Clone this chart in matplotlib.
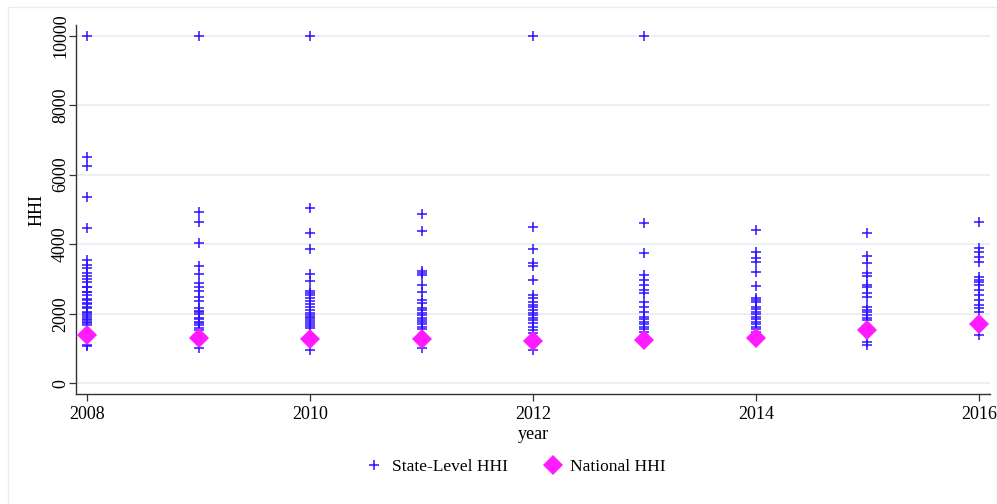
import matplotlib

matplotlib.use("Agg")

import matplotlib.pyplot as plt
from matplotlib.lines import Line2D
from matplotlib.patches import Rectangle

years = [2008, 2009, 2010, 2011, 2012, 2013, 2014, 2015, 2016]

# state-level HHI per year
state_hhi = {
    2008: [10000, 6517, 6258, 5367, 4475, 3547, 3402, 3307, 3164, 3086, 2991, 2922, 2779,
           2761, 2634, 2617, 2540, 2416, 2396, 2301, 2281, 2203, 2157, 2059, 2030, 1964,
           1920, 1841, 1820, 1772, 1726, 1677, 1102, 1073],
    2009: [10000, 4918, 4648, 4044, 3373, 3135, 2876, 2779, 2655, 2491, 2376, 2157, 2088,
           2050, 1990, 1869, 1840, 1772, 1720, 1677, 1600, 1533, 1007],
    2010: [10000, 5033, 4331, 3862, 3135, 2942, 2655, 2600, 2540, 2450, 2376, 2280, 2186,
           2100, 2013, 1960, 1916, 1870, 1820, 1760, 1705, 1640, 1582, 958],
    2011: [4860, 4389, 3239, 3180, 3115, 2827, 2634, 2396, 2300, 2175, 2100, 2013, 1950,
           1880, 1820, 1760, 1700, 1628, 1560, 1007],
    2012: [10000, 4507, 3862, 3469, 3373, 2971, 2540, 2445, 2350, 2252, 2180, 2108, 2030,
           1964, 1890, 1820, 1730, 1628, 1530, 1438, 958],
    2013: [10000, 4602, 3738, 3115, 2971, 2827, 2683, 2588, 2347, 2203, 2059, 1916, 1850,
           1772, 1700, 1628, 1560, 1484],
    2014: [4408, 3785, 3612, 3497, 3210, 2799, 2445, 2400, 2347, 2203, 2130, 2059, 1990,
           1916, 1850, 1772, 1700, 1628, 1560, 1484],
    2015: [4314, 3661, 3451, 3164, 3086, 2827, 2779, 2588, 2491, 2203, 2108, 2040, 1964,
           1890, 1820, 1196, 1102],
    2016: [4648, 3883, 3785, 3641, 3497, 3066, 2971, 2900, 2827, 2683, 2540, 2396, 2252,
           2157, 2060, 1389],
}

national_hhi = [1389, 1294, 1274, 1274, 1225, 1245, 1294, 1533, 1705]

plt.rcParams["font.family"] = ["Liberation Serif", "DejaVu Serif"]

fig = plt.figure(figsize=(9.97, 5.04), dpi=100)
fig.patches.append(Rectangle((8 / 997, -0.01), 989 / 997, 1 - 7 / 504 + 0.01,
                             transform=fig.transFigure, fill=False,
                             edgecolor="#ececec", linewidth=1.0))
ax = fig.add_axes([76 / 997, 1 - 394 / 504, (990 - 76) / 997, (394 - 25) / 504])

for yr in years:
    vals = state_hhi[yr]
    ax.plot([yr] * len(vals), vals, linestyle="none", marker="+", markersize=7,
            markeredgewidth=1.1, color="#2f14ff", zorder=3)
ax.plot(years, national_hhi, linestyle="none", marker="D", markersize=10,
        color="#ff1aff", markeredgewidth=0, zorder=4)

ax.set_xlim(2007.9, 2016.1)
ax.set_ylim(-308, 10305)
ax.set_xticks([2008, 2010, 2012, 2014, 2016])
ax.set_yticks([0, 2000, 4000, 6000, 8000, 10000])
ax.grid(axis="y", color="#e6eef0", linewidth=1.2, zorder=0)
ax.set_axisbelow(True)
for side in ["top", "right"]:
    ax.spines[side].set_visible(False)
for side in ["left", "bottom"]:
    ax.spines[side].set_color("#333333")
    ax.spines[side].set_linewidth(1.0)
ax.tick_params(axis="both", direction="out", length=5, width=0.9, color="#333333",
               labelsize=13)
ax.tick_params(axis="y", pad=0)
plt.setp(ax.get_yticklabels(), rotation=90, va="center")
ax.set_ylabel("HHI", fontsize=13, labelpad=5)
ax.set_xlabel("year", fontsize=13, labelpad=2)

handles = [
    Line2D([], [], linestyle="none", marker="+", markersize=7, markeredgewidth=1.1,
           color="#2f14ff", label="State-Level HHI"),
    Line2D([], [], linestyle="none", marker="D", markersize=10, markeredgewidth=0,
           color="#ff1aff", label="National HHI"),
]
fig.legend(handles=handles, loc="center", bbox_to_anchor=(515 / 997, 1 - 467 / 504),
           ncol=2, frameon=False, fontsize=12.5, handletextpad=0.4, columnspacing=2.0,
           handlelength=1.2)

fig.savefig("out.png", dpi=100)
